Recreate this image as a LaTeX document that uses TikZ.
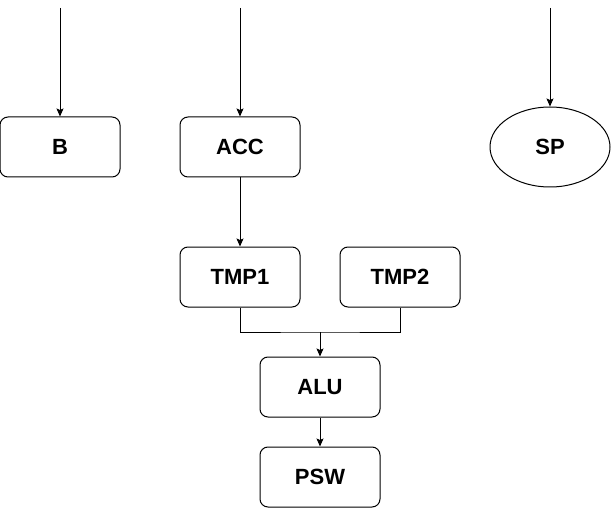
\documentclass[tikz,border=0pt]{standalone}
\usepackage{fontspec}
\setmainfont{Liberation Sans}
\usetikzlibrary{arrows.meta,shapes.geometric}
\begin{document}
\begin{tikzpicture}[x=1pt,y=-1pt,
  box/.style={draw,line width=1pt,rounded corners=8pt,minimum width=120pt,minimum height=60pt,inner sep=0pt,font=\fontsize{22}{26}\selectfont\bfseries},
  oval/.style={draw,line width=1pt,ellipse,minimum width=120pt,minimum height=80pt,inner sep=0pt,font=\fontsize{22}{26}\selectfont\bfseries},
  conn/.style={line width=1pt,-{Stealth[length=8pt,width=7pt,inset=1.5pt]}},
  plain/.style={line width=1pt}]
\useasboundingbox (0,0) rectangle (611,508);
\node[box] (B) at (60,147) {B};
\node[box] (ACC) at (240,147) {ACC};
\node[oval] (SP) at (550,147) {SP};
\node[box] (TMP1) at (240,277) {TMP1};
\node[box] (TMP2) at (400,277) {TMP2};
\node[box] (ALU) at (320,387) {ALU};
\node[box] (PSW) at (320,477) {PSW};
\coordinate (inB) at (60,8);
\coordinate (inACC) at (240,8);
\coordinate (inSP) at (550,8);
\coordinate (join) at (320,332);
\draw[conn] (inB) -- (B.north);
\draw[conn] (inACC) -- (ACC.north);
\draw[conn] (inSP) -- (SP.north);
\draw[conn] (ACC.south) -- (TMP1.north);
\draw[plain] (TMP1.south) |- (join) -| (TMP2.south);
\draw[conn] (join) -- (ALU.north);
\draw[conn] (ALU.south) -- (PSW.north);
\end{tikzpicture}
\end{document}
